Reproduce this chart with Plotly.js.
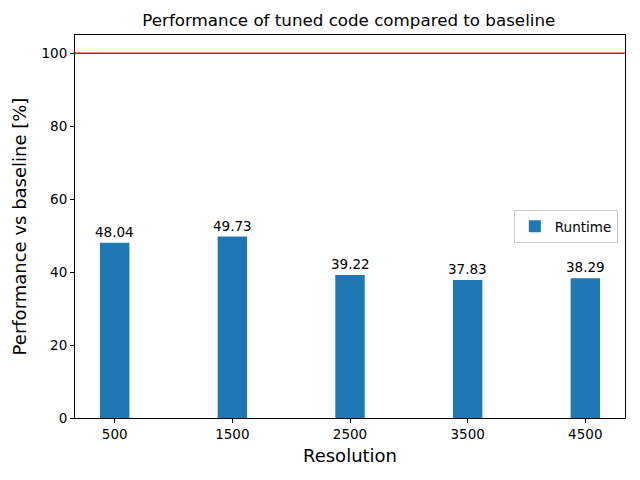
<!DOCTYPE html>
<html>
<head>
<meta charset="utf-8">
<script src="https://cdn.plot.ly/plotly-3.0.1.min.js"></script>
<style>html,body{margin:0;padding:0;background:#fff;}#chart{width:640px;height:480px;}</style>
</head>
<body>
<div id="chart"></div>
<script>
const resolutions = ["500", "1500", "2500", "3500", "4500"];
const runtime = [48.04, 49.73, 39.22, 37.83, 38.29];
const baseline = 100;

const xIdx = resolutions.map((_, i) => i);
const font = "DejaVu Sans, sans-serif";

const traces = [
  {
    type: "bar",
    x: xIdx,
    y: runtime,
    width: 0.25,
    name: "Runtime",
    marker: {color: "#1f77b4"},
    hoverinfo: "skip"
  }
];

const annotations = runtime.map((v, i) => ({
  x: xIdx[i], y: v, xref: "x", yref: "y",
  text: v.toFixed(2), showarrow: false,
  xanchor: "center", yanchor: "bottom", yshift: 1,
  font: {family: font, size: 13.5, color: "#000"}
}));

const layout = {
  width: 640, height: 480,
  margin: {l: 75, r: 15, t: 35, b: 62},
  paper_bgcolor: "#fff", plot_bgcolor: "#fff",
  font: {family: font, color: "#000"},
  title: {text: "Performance of tuned code compared to baseline", font: {family: font, size: 16.7, color: "#000"}, x: 0.545, xanchor: "center", y: 0.97, yanchor: "top"},
  showlegend: true,
  legend: {x: 0.987, xanchor: "right", y: 0.5, yanchor: "middle", bgcolor: "#fff", bordercolor: "#ccc", borderwidth: 1, font: {family: font, size: 13.5}},
  xaxis: {
    range: [-0.3375, 4.3375],
    tickmode: "array", tickvals: xIdx, ticktext: resolutions,
    showgrid: false, zeroline: false,
    showline: true, linecolor: "#000", linewidth: 1, mirror: true,
    ticks: "outside", ticklen: 4, tickcolor: "#000",
    tickfont: {family: font, size: 13.5},
    title: {text: "Resolution", font: {family: font, size: 18}, standoff: 8}
  },
  yaxis: {
    range: [0, 105],
    tickvals: [0, 20, 40, 60, 80, 100],
    showgrid: false, zeroline: false,
    showline: true, linecolor: "#000", linewidth: 1, mirror: true,
    ticks: "outside", ticklen: 4, tickcolor: "#000",
    tickfont: {family: font, size: 13.5},
    title: {text: "Performance vs baseline [%]", font: {family: font, size: 18}, standoff: 10}
  },
  annotations: annotations,
  shapes: [
    {type: "line", xref: "paper", x0: 0, x1: 1, yref: "y", y0: baseline, y1: baseline, line: {color: "red", width: 1.5}}
  ]
};

Plotly.newPlot("chart", traces, layout, {displayModeBar: false, staticPlot: true});
</script>
</body>
</html>
